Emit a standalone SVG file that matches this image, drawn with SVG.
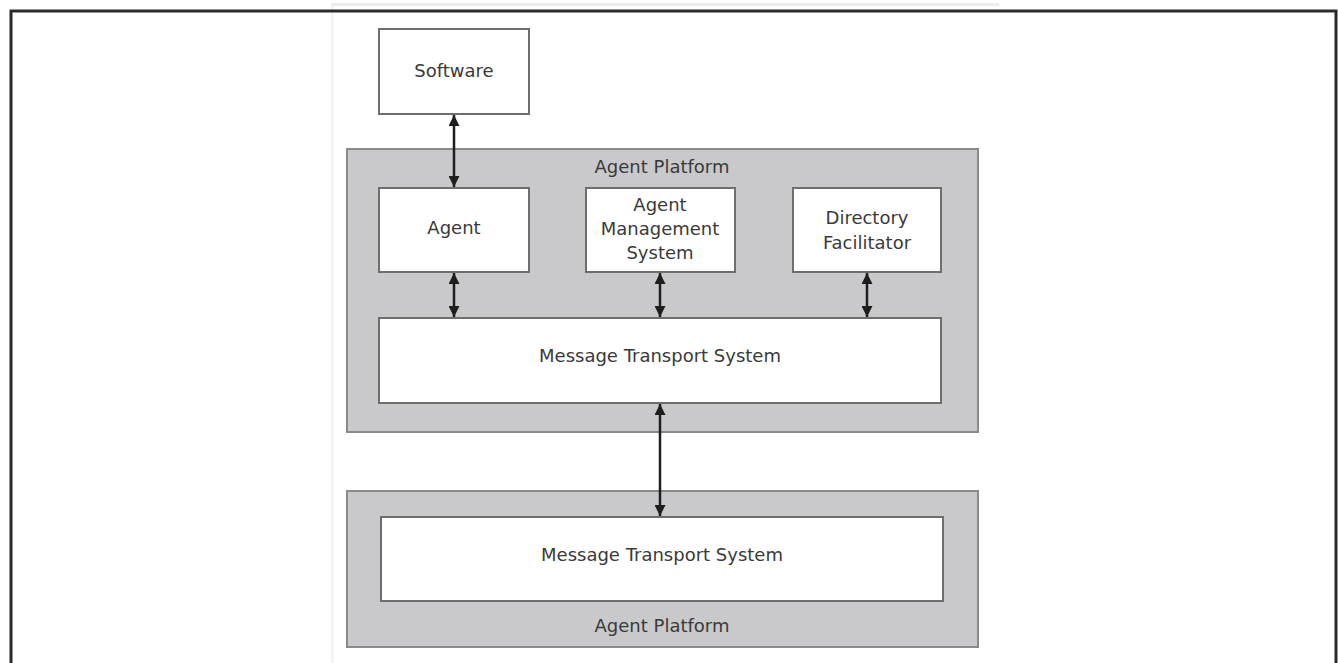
<svg xmlns="http://www.w3.org/2000/svg" width="1338" height="663" viewBox="0 0 1338 663">
<style>
.platform{fill:#c9c9cb;stroke:#8a8a8a;stroke-width:2}
.box{fill:#ffffff;stroke:#6e6e6e;stroke-width:2}
.lbl{font-family:"DejaVu Sans",sans-serif;font-size:18px;fill:#3a3a3a;text-anchor:middle}
.conn{stroke:#1e1e1e;stroke-width:2.5;fill:none}
</style>
<defs>
<marker id="ah" viewBox="0 0 10 10" refX="10" refY="5" markerWidth="4.6" markerHeight="4.4" orient="auto-start-reverse" markerUnits="strokeWidth">
<path d="M0,0 L10,5 L0,10 z" fill="#1e1e1e"/>
</marker>
</defs>
<rect x="0" y="0" width="1338" height="663" fill="#ffffff"/>
<g id="page">
<line x1="331" y1="4.5" x2="999" y2="4.5" stroke="#ececec" stroke-width="3"/>
<line x1="332.5" y1="5" x2="332.5" y2="663" stroke="#efefef" stroke-width="2"/>
</g>
<g id="frame">
<path d="M11,663 V11 H1336 V663" fill="none" stroke="#2a2a2a" stroke-width="3"/>
</g>
<g id="platform-top">
<rect class="platform" x="347" y="149" width="631" height="283"/>
<text class="lbl" x="662" y="173">Agent Platform</text>
</g>
<g id="platform-bottom">
<rect class="platform" x="347" y="491" width="631" height="156"/>
<text class="lbl" x="662" y="632">Agent Platform</text>
</g>
<g id="software">
<rect class="box" x="379" y="29" width="150" height="85"/>
<text class="lbl" x="454" y="77">Software</text>
</g>
<g id="agent">
<rect class="box" x="379" y="188" width="150" height="84"/>
<text class="lbl" x="454" y="234">Agent</text>
</g>
<g id="ams">
<rect class="box" x="586" y="188" width="149" height="84"/>
<text class="lbl" x="660" y="211">Agent</text>
<text class="lbl" x="660" y="235">Management</text>
<text class="lbl" x="660" y="259">System</text>
</g>
<g id="df">
<rect class="box" x="793" y="188" width="148" height="84"/>
<text class="lbl" x="867" y="224">Directory</text>
<text class="lbl" x="867" y="249">Facilitator</text>
</g>
<g id="mts-top">
<rect class="box" x="379" y="318" width="562" height="85"/>
<text class="lbl" x="660" y="362">Message Transport System</text>
</g>
<g id="mts-bottom">
<rect class="box" x="381" y="517" width="562" height="84"/>
<text class="lbl" x="662" y="561">Message Transport System</text>
</g>
<g id="connectors">
<line class="conn" x1="454" y1="115" x2="454" y2="187" marker-start="url(#ah)" marker-end="url(#ah)"/>
<line class="conn" x1="454" y1="273" x2="454" y2="317" marker-start="url(#ah)" marker-end="url(#ah)"/>
<line class="conn" x1="660" y1="273" x2="660" y2="317" marker-start="url(#ah)" marker-end="url(#ah)"/>
<line class="conn" x1="867" y1="273" x2="867" y2="317" marker-start="url(#ah)" marker-end="url(#ah)"/>
<line class="conn" x1="660" y1="404" x2="660" y2="516" marker-start="url(#ah)" marker-end="url(#ah)"/>
</g>
</svg>
